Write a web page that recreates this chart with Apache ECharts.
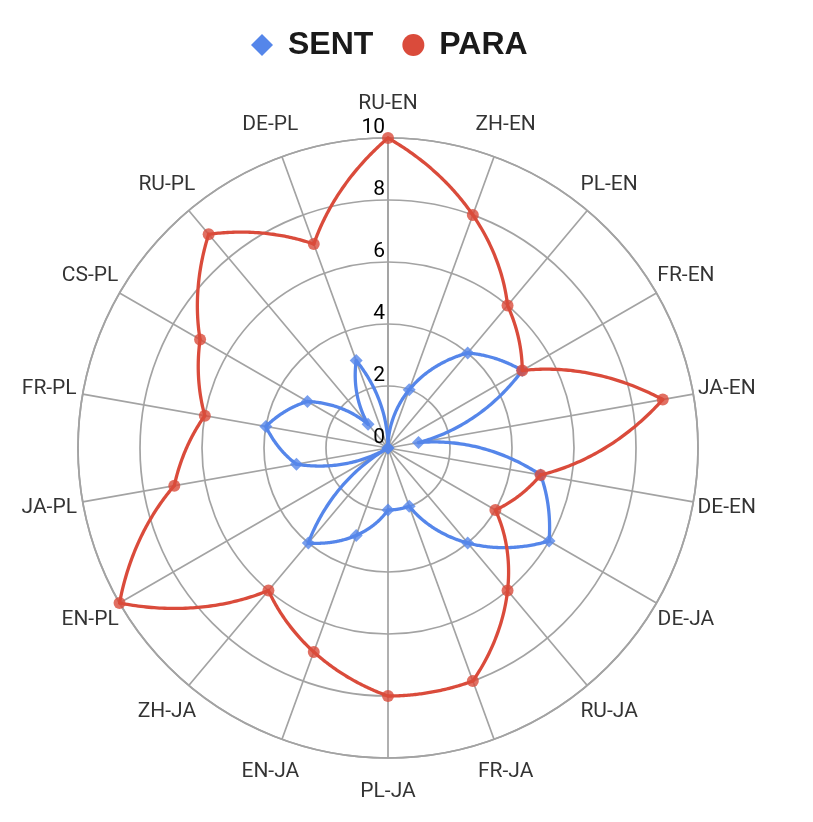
<!DOCTYPE html>
<html><head><meta charset="utf-8">
<script src="https://cdn.jsdelivr.net/npm/echarts@6/dist/echarts.min.js"></script>
<style>html,body{margin:0;padding:0;background:#fff}#chart{width:813px;height:822px}</style>
</head><body><div id="chart"></div>
<script>
const categories = ['RU-EN','ZH-EN','PL-EN','FR-EN','JA-EN','DE-EN','DE-JA','RU-JA','FR-JA','PL-JA','EN-JA','ZH-JA','EN-PL','JA-PL','FR-PL','CS-PL','RU-PL','DE-PL'];
const sentValues = [0,2,4,5,1,5,6,4,2,2,3,4,0,3,4,3,1,3];
const paraValues = [10,8,6,5,9,5,4,6,8,8,7,6,10,7,6,7,9,7];
const radiusMin = 0, radiusMax = 10, radiusStep = 2;
const seriesNames = ['SENT','PARA'];

const BLUE = '#5586EA', RED = '#DA4B3B', GRID = '#a3a3a3', TEXT = '#000000';
const step = 360 / categories.length;
const toPolar = vals => vals.map((v, i) => [v, i * step]);

function curve(color) {
  return function (params, api) {
    const n = params.dataInsideLength;
    const i = params.dataIndexInside;
    const j = (i + 1) % n;
    const r0 = api.value(0, i), a0 = api.value(1, i);
    const r1 = api.value(0, j); let a1 = api.value(1, j);
    if (a1 <= a0) a1 += 360;
    const pts = [];
    const steps = 60;
    for (let k = 0; k <= steps; k++) {
      const t = k / steps;
      pts.push(api.coord([r0 + (r1 - r0) * t, a0 + (a1 - a0) * t]));
    }
    return { type: 'polyline', shape: { points: pts },
      style: { stroke: color, lineWidth: 3.3, fill: null, lineJoin: 'round', lineCap: 'round' } };
  };
}

const chart = echarts.init(document.getElementById('chart'), null, { renderer: 'canvas' });
chart.setOption({
  animation: false,
  backgroundColor: '#ffffff',
  legend: {
    left: 251, top: 29, padding: 0, itemWidth: 22, itemHeight: 22, itemGap: 29,
    selectedMode: false,
    data: [{ name: seriesNames[0], icon: 'diamond' }, { name: seriesNames[1], icon: 'circle' }],
    textStyle: { fontFamily: 'Liberation Sans', fontWeight: 'bold', fontSize: 32, color: '#1a1a1a', padding: [0, 0, 0, 10] }
  },
  polar: [
    { center: [388, 448], radius: 310 },
    { center: [388, 448], radius: 344 }
  ],
  angleAxis: [
    { polarIndex: 0, type: 'value', min: 0, max: 360, interval: step, startAngle: 90, clockwise: true,
      axisLine: { show: true, lineStyle: { color: GRID, width: 1.7 } },
      axisTick: { show: false }, axisLabel: { show: false },
      splitLine: { show: true, lineStyle: { color: GRID, width: 1.7 } } },
    { polarIndex: 1, type: 'value', min: 0, max: 360, startAngle: 90, clockwise: true, show: false }
  ],
  radiusAxis: [
    { polarIndex: 0, type: 'value', min: radiusMin, max: radiusMax, interval: radiusStep,
      axisLine: { show: true, lineStyle: { color: GRID, width: 1.7 } },
      axisTick: { show: false },
      axisLabel: { show: true, margin: 3, verticalAlign: 'bottom', fontFamily: 'Roboto', fontSize: 21, color: TEXT },
      splitLine: { show: true, lineStyle: { color: GRID, width: 1.7 } } },
    { polarIndex: 1, type: 'value', min: 0, max: 1, show: false }
  ],
  series: [
    { name: seriesNames[0], type: 'custom', coordinateSystem: 'polar', polarIndex: 0,
      itemStyle: { color: BLUE }, renderItem: curve(BLUE), data: toPolar(sentValues), z: 3 },
    { name: seriesNames[0], type: 'scatter', coordinateSystem: 'polar', polarIndex: 0,
      symbol: 'diamond', symbolSize: 13, itemStyle: { color: BLUE }, data: toPolar(sentValues), z: 3 },
    { name: seriesNames[1], type: 'custom', coordinateSystem: 'polar', polarIndex: 0,
      itemStyle: { color: RED }, renderItem: curve(RED), data: toPolar(paraValues), z: 4 },
    { name: seriesNames[1], type: 'scatter', coordinateSystem: 'polar', polarIndex: 0,
      symbol: 'circle', symbolSize: 12, itemStyle: { color: RED }, data: toPolar(paraValues), z: 4 },
    { name: 'labels', type: 'scatter', coordinateSystem: 'polar', polarIndex: 1,
      symbolSize: 1, itemStyle: { color: 'rgba(0,0,0,0)' }, silent: true,
      data: categories.map((c, i) => ({ value: [1, i * step], name: c })),
      label: { show: true, position: 'inside', formatter: p => p.name,
        fontFamily: 'Roboto', fontSize: 21, color: TEXT } }
  ]
});
</script></body></html>
